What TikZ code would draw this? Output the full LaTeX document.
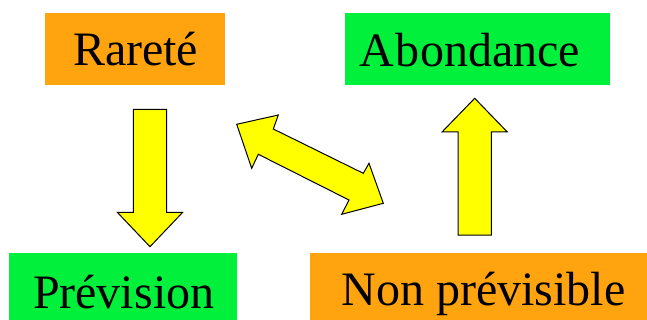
\documentclass[tikz,border=0pt]{standalone}
\usepackage{fontspec}
\setmainfont{Liberation Serif}
\definecolor{boxorange}{RGB}{255,163,15}
\definecolor{boxgreen}{RGB}{0,240,60}
\definecolor{arrowyellow}{RGB}{255,255,0}
\begin{document}
\begin{tikzpicture}[x=1pt,y=-1pt,
  box/.style={draw=none,inner sep=0pt,outer sep=0pt},
  lbl/.style={inner sep=0pt,outer sep=0pt,anchor=base west,font=\fontsize{48}{50}\selectfont},
  blockarrow/.style={draw=black,line width=1pt,fill=arrowyellow,line join=miter}]
\useasboundingbox (0,0) rectangle (647,320);
\fill[white] (0,0) rectangle (647,320);
% boxes
\fill[boxorange] (45,13) rectangle (225,85);
\node[box] (rarete) at (135,49) {};
\fill[boxgreen] (345,13) rectangle (610,85);
\node[box] (abondance) at (477.5,49) {};
\fill[boxgreen] (9,253) rectangle (237,320);
\node[box] (prevision) at (123,286) {};
\fill[boxorange] (309.5,253) rectangle (647,320);
\node[box] (nonprev) at (478,286) {};
% labels
\node[lbl] (t1) at (73,65.7) {Rareté};
\node[lbl] (t2) at (359.5,66.7) {A\kern1.5pt b\kern0.5pt ondance};
\node[lbl] (t3) at (33,308) {Prévision};
\node[lbl] (t4) at (341.5,305) {Non prévisible};
% down arrow
\draw[blockarrow] (133.3,109.3) -- (166.7,109.3) -- (166.7,212.3) -- (182.7,212.3)
  -- (150,246.7) -- (117.3,212.3) -- (133.3,212.3) -- cycle;
% up arrow
\draw[blockarrow] (458,235) -- (458,132) -- (442,132) -- (474.7,98.3) -- (507.3,132)
  -- (491.3,132) -- (491.3,235) -- cycle;
% double arrow
\draw[blockarrow] (236.7,124.3) -- (278.3,115) -- (273.3,129) -- (363.3,173.3)
  -- (369,163.3) -- (383.3,203.3) -- (341.7,214.3) -- (349,200) -- (258.3,154.3)
  -- (251.7,168.3) -- cycle;
\end{tikzpicture}
\end{document}
